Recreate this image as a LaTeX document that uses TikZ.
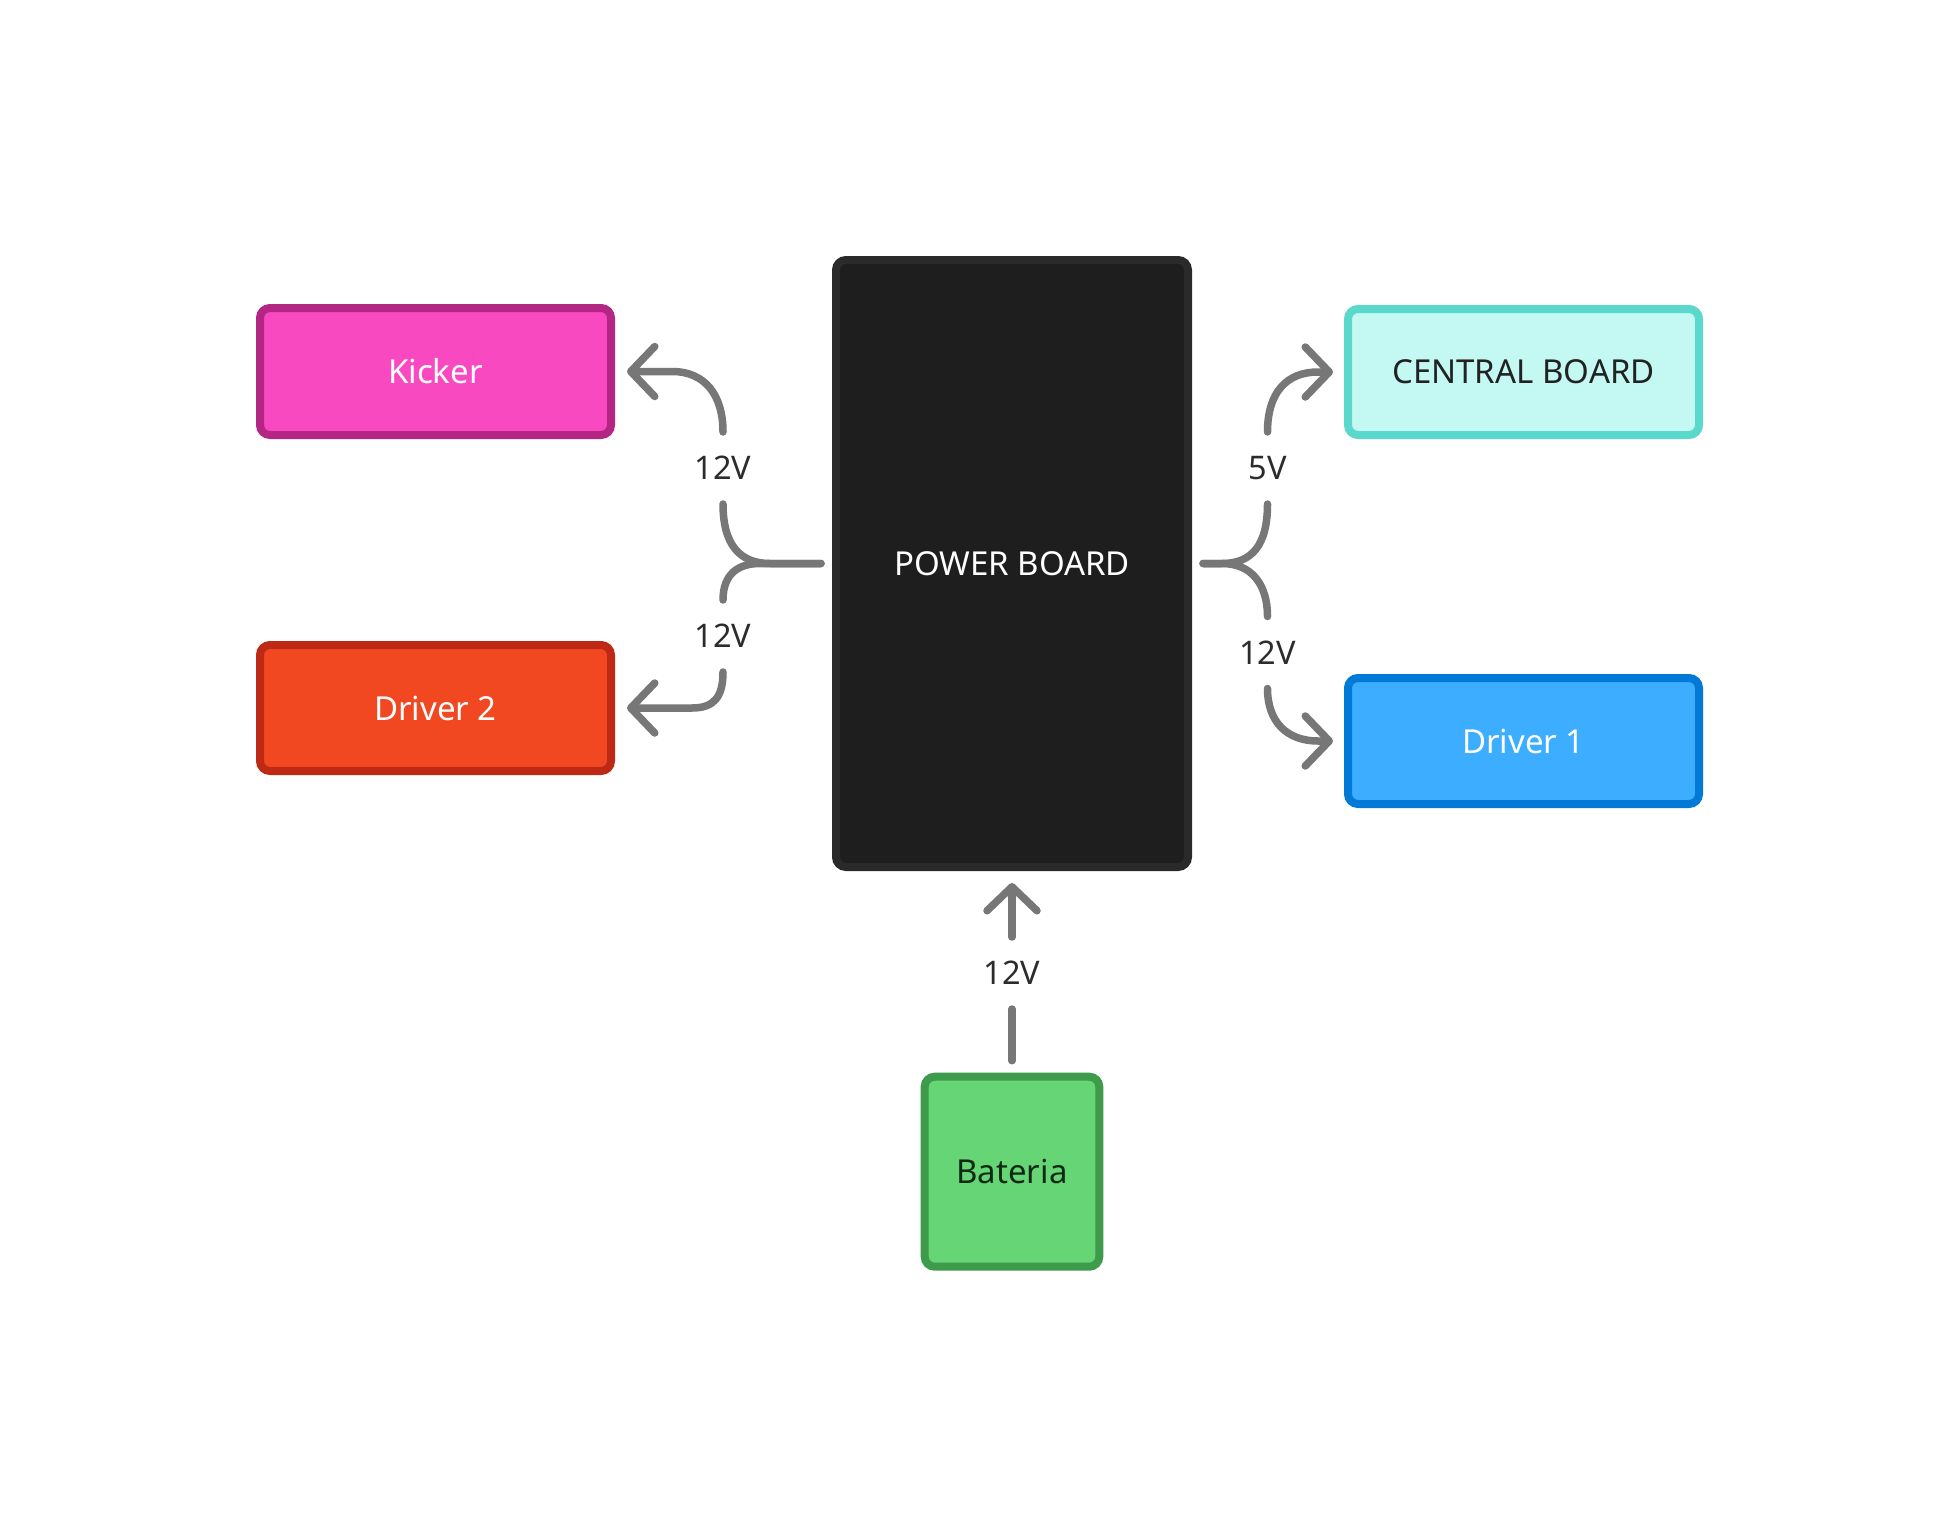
\documentclass[tikz,border=0pt]{standalone}
\usepackage{fontspec}
\setmainfont{Noto Sans}
\usetikzlibrary{arrows.meta}
\definecolor{kfill}{HTML}{F849C1}
\definecolor{kline}{HTML}{B42683}
\definecolor{dtwofill}{HTML}{F24822}
\definecolor{dtwoline}{HTML}{BD2915}
\definecolor{pbfill}{HTML}{1E1E1E}
\definecolor{pbline}{HTML}{2A2A2A}
\definecolor{cbfill}{HTML}{C4F9F3}
\definecolor{cbline}{HTML}{5AD8CC}
\definecolor{donefill}{HTML}{3DADFF}
\definecolor{doneline}{HTML}{007AD6}
\definecolor{batfill}{HTML}{66D575}
\definecolor{batline}{HTML}{3E9B4B}
\definecolor{battext}{HTML}{0F2A14}
\definecolor{darktext}{HTML}{222222}
\definecolor{lbltext}{HTML}{2C2C2C}
\definecolor{conngray}{HTML}{777777}
\begin{document}
\begin{tikzpicture}[x=1pt,y=-1pt,
  box/.style={draw, line width=8pt, rounded corners=10pt, inner sep=0pt,
    font=\fontsize{33}{40}\selectfont},
  lbl/.style={inner sep=0pt, outer sep=0pt, minimum height=72pt, text=lbltext,
    font=\fontsize{32.5}{39}\selectfont},
  conn/.style={draw=conngray, line width=7.5pt, line cap=round, line join=round},
  arr/.style={conn, -{Straight Barb[length=24pt,width=50pt,round]}}]
\useasboundingbox[fill=white] (0,0) rectangle (1960,1528);

\node[box, fill=kfill, draw=kline, text=white, minimum width=351pt, minimum height=127pt] (kicker) at (435.5,371.5) {Kicker};
\node[box, fill=dtwofill, draw=dtwoline, text=white, minimum width=351pt, minimum height=126pt] (drv2) at (435.5,708) {Driver 2};
\node[box, fill=pbfill, draw=pbline, text=white, minimum width=352pt, minimum height=607pt] (pb) at (1012,563.5) {POWER BOARD};
\node[box, fill=cbfill, draw=cbline, text=darktext, minimum width=351pt, minimum height=126pt] (central) at (1523.5,372) {CENTRAL BOARD};
\node[box, fill=donefill, draw=doneline, text=white, minimum width=351pt, minimum height=126pt] (drv1) at (1523.5,741) {Driver 1};
\node[box, fill=batfill, draw=batline, text=battext, minimum width=174.6pt, minimum height=190pt] (bat) at (1012,1171.7) {Bateria};

\node[lbl] (l1) at (723,468) {12V};
\node[lbl] (l2) at (723,636) {12V};
\node[lbl] (l3) at (1267.5,468) {5V};
\node[lbl] (l4) at (1267.5,652.5) {12V};
\node[lbl] (l5) at (1012,973) {12V};

% Power board -> Kicker
\draw[conn] ([xshift=-11pt]pb.west) -- (770,563.5) .. controls (740,563.5) and (723,545) .. (l1.south);
\draw[arr] (l1.north) .. controls (723,395) and (705,371.5) .. (672,371.5) -- ([xshift=12pt]kicker.east);
% Power board -> Driver 2
\draw[conn] ([xshift=-11pt]pb.west) -- (760,563.5) .. controls (737,563.5) and (723,575) .. (l2.north);
\draw[arr] (l2.south) .. controls (723,697) and (714,708) .. (692,708) -- ([xshift=12pt]drv2.east);
% Power board -> Central board
\draw[conn] ([xshift=11pt]pb.east) -- (1222,563.5) .. controls (1252,563.5) and (1267.5,545) .. (l3.south);
\draw[arr] (l3.north) .. controls (1267.5,392) and (1287,372) .. (1318,372) -- ([xshift=-11pt]central.west);
% Power board -> Driver 1
\draw[conn] ([xshift=11pt]pb.east) -- (1222,563.5) .. controls (1252,563.5) and (1267.5,585) .. (l4.north);
\draw[arr] (l4.south) .. controls (1267.5,722) and (1287,741) .. (1318,741) -- ([xshift=-11pt]drv1.west);
% Bateria -> Power board
\draw[conn] ([yshift=12pt]bat.north) -- (l5.south);
\draw[arr] (l5.north) -- ([yshift=-12pt]pb.south);
\end{tikzpicture}
\end{document}
